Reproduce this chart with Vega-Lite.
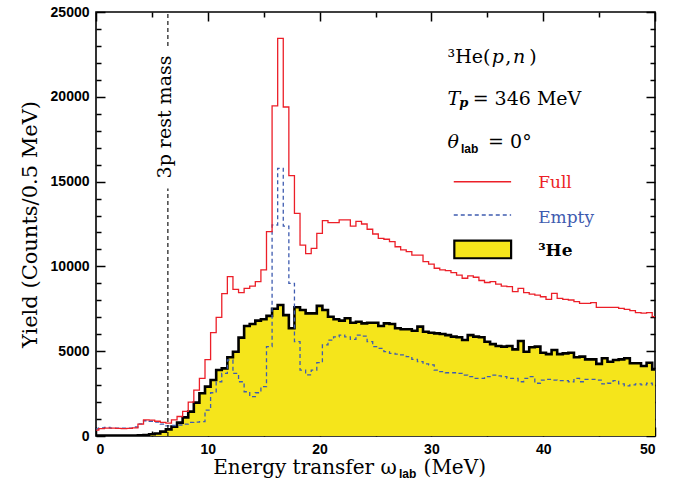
{
  "$schema": "https://vega.github.io/schema/vega-lite/v6.json",
  "width": 559,
  "height": 424,
  "autosize": {"type": "none"},
  "padding": {"left": 96, "top": 12, "right": 30, "bottom": 55},
  "background": "white",
  "config": {
    "view": {"stroke": "black", "strokeWidth": 1.6},
    "axis": {"domain": false, "grid": false, "tickColor": "black", "tickWidth": 1.5, "labelFont": "Liberation Sans", "labelFontWeight": "bold", "labelFontSize": 14, "labelColor": "black", "format": "d"}
  },
  "datasets": {
    "hist": [
      {"E":0,"full":350,"empty":420,"he3":20},{"E":0.5,"full":430,"empty":480,"he3":20},{"E":1,"full":460,"empty":500,"he3":20},{"E":1.5,"full":470,"empty":470,"he3":20},{"E":2,"full":450,"empty":470,"he3":20},{"E":2.5,"full":440,"empty":460,"he3":20},{"E":3,"full":450,"empty":470,"he3":20},{"E":3.5,"full":480,"empty":530,"he3":30},{"E":4,"full":700,"empty":720,"he3":40},{"E":4.5,"full":950,"empty":900,"he3":60},
      {"E":5,"full":940,"empty":870,"he3":100},{"E":5.5,"full":870,"empty":820,"he3":150},{"E":6,"full":800,"empty":700,"he3":260},{"E":6.5,"full":760,"empty":600,"he3":390},{"E":7,"full":950,"empty":620,"he3":550},{"E":7.5,"full":1150,"empty":650,"he3":790},{"E":8,"full":1450,"empty":700,"he3":1100},{"E":8.5,"full":2000,"empty":800,"he3":1440},{"E":9,"full":2700,"empty":820,"he3":1970},{"E":9.5,"full":3400,"empty":850,"he3":2520},
      {"E":10,"full":4500,"empty":1530,"he3":2910},{"E":10.5,"full":6100,"empty":2550,"he3":3300},{"E":11,"full":7000,"empty":3200,"he3":3890},{"E":11.5,"full":8400,"empty":3690,"he3":3990},{"E":12,"full":9400,"empty":4480,"he3":4640},{"E":12.5,"full":8650,"empty":3690,"he3":4970},{"E":13,"full":8450,"empty":3200,"he3":5800},{"E":13.5,"full":8700,"empty":2610,"he3":6490},{"E":14,"full":8840,"empty":2320,"he3":6600},{"E":14.5,"full":9100,"empty":2550,"he3":6800},
      {"E":15,"full":9790,"empty":2910,"he3":6880},{"E":15.5,"full":12050,"empty":5270,"he3":7080},{"E":16,"full":19460,"empty":12440,"he3":7500},{"E":16.5,"full":23450,"empty":15780,"he3":7720},{"E":17,"full":19400,"empty":12380,"he3":7130},{"E":17.5,"full":15350,"empty":9000,"he3":6350},{"E":18,"full":13130,"empty":5560,"he3":7590},{"E":18.5,"full":11260,"empty":3890,"he3":7430},{"E":19,"full":10750,"empty":3600,"he3":7230},{"E":19.5,"full":11060,"empty":3890,"he3":7230},
      {"E":20,"full":11950,"empty":4330,"he3":7670},{"E":20.5,"full":12700,"empty":5370,"he3":7430},{"E":21,"full":12580,"empty":5650,"he3":7035},{"E":21.5,"full":12580,"empty":5850,"he3":6880},{"E":22,"full":12740,"empty":5950,"he3":6800},{"E":22.5,"full":12740,"empty":5850,"he3":6940},{"E":23,"full":12380,"empty":5700,"he3":6680},{"E":23.5,"full":12650,"empty":5950,"he3":6740},{"E":24,"full":12500,"empty":5890,"he3":6640},{"E":24.5,"full":12190,"empty":5560,"he3":6680},
      {"E":25,"full":11910,"empty":5270,"he3":6680},{"E":25.5,"full":11650,"empty":5170,"he3":6490},{"E":26,"full":11600,"empty":4970,"he3":6640},{"E":26.5,"full":11460,"empty":4870,"he3":6600},{"E":27,"full":11160,"empty":4830,"he3":6350},{"E":27.5,"full":10970,"empty":4780,"he3":6290},{"E":28,"full":10870,"empty":4680,"he3":6290},{"E":28.5,"full":10670,"empty":4520,"he3":6210},{"E":29,"full":10670,"empty":4390,"he3":6450},{"E":29.5,"full":10280,"empty":4250,"he3":6150},
      {"E":30,"full":10140,"empty":4190,"he3":6090},{"E":30.5,"full":9890,"empty":3890,"he3":6050},{"E":31,"full":9790,"empty":3790,"he3":6010},{"E":31.5,"full":9750,"empty":3730,"he3":5950},{"E":32,"full":9630,"empty":3730,"he3":5860},{"E":32.5,"full":9490,"empty":3690,"he3":5820},{"E":33,"full":9300,"empty":3590,"he3":5660},{"E":33.5,"full":9440,"empty":3500,"he3":5950},{"E":34,"full":9360,"empty":3400,"he3":5860},{"E":34.5,"full":9170,"empty":3400,"he3":5820},
      {"E":35,"full":9050,"empty":3500,"he3":5560},{"E":35.5,"full":9100,"empty":3590,"he3":5420},{"E":36,"full":8960,"empty":3540,"he3":5310},{"E":36.5,"full":8840,"empty":3500,"he3":5270},{"E":37,"full":8810,"empty":3400,"he3":5310},{"E":37.5,"full":8510,"empty":3400,"he3":5110},{"E":38,"full":8700,"empty":3200,"he3":5600},{"E":38.5,"full":8450,"empty":3400,"he3":4970},{"E":39,"full":8370,"empty":3500,"he3":5230},{"E":39.5,"full":8310,"empty":3110,"he3":5270},
      {"E":40,"full":8210,"empty":3300,"he3":4910},{"E":40.5,"full":8060,"empty":3340,"he3":4830},{"E":41,"full":8410,"empty":3300,"he3":5070},{"E":41.5,"full":8120,"empty":3260,"he3":4830},{"E":42,"full":8060,"empty":3260,"he3":4870},{"E":42.5,"full":8020,"empty":3200,"he3":4910},{"E":43,"full":7920,"empty":3400,"he3":4640},{"E":43.5,"full":7820,"empty":3200,"he3":4680},{"E":44,"full":7820,"empty":3340,"he3":4520},{"E":44.5,"full":7860,"empty":3340,"he3":4520},
      {"E":45,"full":7580,"empty":3300,"he3":4250},{"E":45.5,"full":7580,"empty":3070,"he3":4580},{"E":46,"full":7580,"empty":3110,"he3":4380},{"E":46.5,"full":7580,"empty":3260,"he3":4480},{"E":47,"full":7530,"empty":3070,"he3":4520},{"E":47.5,"full":7470,"empty":2950,"he3":4580},{"E":48,"full":7390,"empty":3010,"he3":4290},{"E":48.5,"full":7280,"empty":3070,"he3":4290},{"E":49,"full":7240,"empty":3010,"he3":4130},{"E":49.5,"full":7280,"empty":3110,"he3":4320},
      {"E":50,"full":7040,"empty":3010,"he3":3930}
    ],
    "restmass": [{"x":6.43,"y1":0,"y2":14600},{"x":6.43,"y1":23000,"y2":25000}],
    "annNorm": [{"x":31.45,"y":22010,"t":"³He("},{"x":36.6,"y":22010,"t":","},{"x":38.75,"y":22010,"t":")"},{"x":33.69,"y":19515,"t":"= 346 MeV"},{"x":35.07,"y":17000,"t":"= 0°"}],
    "annItal": [{"x":35.4,"y":22010,"t":"p"},{"x":37.3,"y":22010,"t":"n"},{"x":31.45,"y":19515,"t":"T"},{"x":31.45,"y":17000,"t":"θ"}],
    "annSub": [{"x":32.5,"y":19380,"t":"p"}],
    "annLab": [{"x":32.65,"y":16700,"t":"lab"}],
    "legLines": [{"s":"Full","x1":32.0,"x2":37.13,"y":14990},{"s":"Empty","x1":32.0,"x2":37.13,"y":13030}],
    "legRect": [{"x1":32.05,"x2":37.13,"y1":10480,"y2":11515}],
    "legText": [{"s":"Full","x":39.55,"y":14600,"t":"Full"},{"s":"Empty","x":39.55,"y":12580,"t":"Empty"}],
    "legHe": [{"x":39.55,"y":10610,"t":"³He"}],
    "xtitle": [{"x":26.9,"y":0,"t":"Energy transfer ω"}],
    "xtitleSub": [{"x":27.1,"y":0,"t":"lab"}],
    "xtitleEnd": [{"x":29.3,"y":0,"t":"(MeV)"}],
    "rmText": [{"x":6.43,"y":18810,"t":"3p rest mass"}]
  },
  "resolve": {"axis": {"x": "independent", "y": "independent"}},
  "layer": [
    {
      "data": {"name": "hist"},
      "mark": {"type": "area", "interpolate": "step", "color": "#f5e51b", "clip": true},
      "encoding": {
        "x": {"field": "E", "type": "quantitative", "scale": {"domain": [0, 50], "nice": false, "zero": false},
              "axis": {"orient": "bottom", "values": [0, 10, 20, 30, 40, 50], "tickSize": -9, "labelPadding": 15, "title": null}},
        "y": {"field": "he3", "type": "quantitative", "scale": {"domain": [0, 25000], "nice": false},
              "axis": {"orient": "left", "values": [0, 5000, 10000, 15000, 20000, 25000], "tickSize": -9, "labelPadding": 16,
                       "title": "Yield (Counts/0.5 MeV)", "titleFont": "DejaVu Serif", "titleFontWeight": "normal", "titleFontSize": 21, "titleColor": "black", "titlePadding": 10}}
      }
    },
    {
      "data": {"name": "hist"},
      "mark": {"type": "line", "interpolate": "step", "color": "black", "strokeWidth": 2.6, "clip": true},
      "encoding": {
        "x": {"field": "E", "type": "quantitative", "scale": {"domain": [0, 50], "nice": false, "zero": false},
              "axis": {"orient": "bottom", "values": [5, 15, 25, 35, 45], "tickSize": -5, "labels": false, "title": null}},
        "y": {"field": "he3", "type": "quantitative", "scale": {"domain": [0, 25000], "nice": false},
              "axis": {"orient": "left", "values": [1000,2000,3000,4000,6000,7000,8000,9000,11000,12000,13000,14000,16000,17000,18000,19000,21000,22000,23000,24000], "tickSize": -5, "labels": false, "title": null}}
      }
    },
    {
      "data": {"name": "hist"},
      "mark": {"type": "line", "interpolate": "step", "color": "#3f5cb0", "strokeWidth": 1.3, "strokeDash": [4, 3], "clip": true},
      "encoding": {
        "x": {"field": "E", "type": "quantitative", "scale": {"domain": [0, 50], "nice": false, "zero": false},
              "axis": {"orient": "top", "values": [0, 10, 20, 30, 40, 50], "tickSize": -9, "labels": false, "title": null}},
        "y": {"field": "empty", "type": "quantitative", "scale": {"domain": [0, 25000], "nice": false},
              "axis": {"orient": "right", "values": [0, 5000, 10000, 15000, 20000, 25000], "tickSize": -9, "labels": false, "title": null}}
      }
    },
    {
      "data": {"name": "hist"},
      "mark": {"type": "line", "interpolate": "step", "color": "#ec1f28", "strokeWidth": 1.3, "clip": true},
      "encoding": {
        "x": {"field": "E", "type": "quantitative", "scale": {"domain": [0, 50], "nice": false, "zero": false},
              "axis": {"orient": "top", "values": [5, 15, 25, 35, 45], "tickSize": -5, "labels": false, "title": null}},
        "y": {"field": "full", "type": "quantitative", "scale": {"domain": [0, 25000], "nice": false},
              "axis": {"orient": "right", "values": [1000,2000,3000,4000,6000,7000,8000,9000,11000,12000,13000,14000,16000,17000,18000,19000,21000,22000,23000,24000], "tickSize": -5, "labels": false, "title": null}}
      }
    },
    {
      "data": {"name": "restmass"},
      "mark": {"type": "rule", "color": "black", "strokeWidth": 1.1, "strokeDash": [4, 3]},
      "encoding": {
        "x": {"field": "x", "type": "quantitative", "axis": null},
        "y": {"field": "y1", "type": "quantitative", "axis": null},
        "y2": {"field": "y2"}
      }
    },
    {
      "data": {"name": "rmText"},
      "mark": {"type": "text", "font": "DejaVu Serif", "fontSize": 19, "angle": 270, "align": "center", "baseline": "middle", "dy": -3, "color": "black"},
      "encoding": {
        "x": {"field": "x", "type": "quantitative", "axis": null},
        "y": {"field": "y", "type": "quantitative", "axis": null},
        "text": {"field": "t"}
      }
    },
    {
      "data": {"name": "annNorm"},
      "mark": {"type": "text", "font": "DejaVu Serif", "fontSize": 19, "align": "left", "baseline": "alphabetic", "color": "black"},
      "encoding": {
        "x": {"field": "x", "type": "quantitative", "axis": null},
        "y": {"field": "y", "type": "quantitative", "axis": null},
        "text": {"field": "t"}
      }
    },
    {
      "data": {"name": "annItal"},
      "mark": {"type": "text", "font": "DejaVu Serif", "fontStyle": "italic", "fontSize": 19, "align": "left", "baseline": "alphabetic", "color": "black"},
      "encoding": {
        "x": {"field": "x", "type": "quantitative", "axis": null},
        "y": {"field": "y", "type": "quantitative", "axis": null},
        "text": {"field": "t"}
      }
    },
    {
      "data": {"name": "annSub"},
      "mark": {"type": "text", "font": "DejaVu Serif", "fontStyle": "italic", "fontWeight": "bold", "fontSize": 13, "align": "left", "baseline": "alphabetic", "color": "black"},
      "encoding": {
        "x": {"field": "x", "type": "quantitative", "axis": null},
        "y": {"field": "y", "type": "quantitative", "axis": null},
        "text": {"field": "t"}
      }
    },
    {
      "data": {"name": "annLab"},
      "mark": {"type": "text", "font": "Liberation Sans", "fontWeight": "bold", "fontSize": 12, "align": "left", "baseline": "alphabetic", "color": "black"},
      "encoding": {
        "x": {"field": "x", "type": "quantitative", "axis": null},
        "y": {"field": "y", "type": "quantitative", "axis": null},
        "text": {"field": "t"}
      }
    },
    {
      "data": {"name": "legLines"},
      "mark": {"type": "rule", "strokeWidth": 1.3},
      "encoding": {
        "x": {"field": "x1", "type": "quantitative", "axis": null},
        "x2": {"field": "x2"},
        "y": {"field": "y", "type": "quantitative", "axis": null},
        "color": {"field": "s", "type": "nominal", "scale": {"domain": ["Full", "Empty"], "range": ["#ec1f28", "#3f5cb0"]}, "legend": null},
        "strokeDash": {"field": "s", "type": "nominal", "scale": {"domain": ["Full", "Empty"], "range": [[1, 0], [4, 3]]}, "legend": null}
      }
    },
    {
      "data": {"name": "legRect"},
      "mark": {"type": "rect", "color": "#f5e51b", "stroke": "black", "strokeWidth": 2.2},
      "encoding": {
        "x": {"field": "x1", "type": "quantitative", "axis": null},
        "x2": {"field": "x2"},
        "y": {"field": "y1", "type": "quantitative", "axis": null},
        "y2": {"field": "y2"}
      }
    },
    {
      "data": {"name": "legText"},
      "mark": {"type": "text", "font": "DejaVu Serif", "fontSize": 17, "align": "left", "baseline": "alphabetic"},
      "encoding": {
        "x": {"field": "x", "type": "quantitative", "axis": null},
        "y": {"field": "y", "type": "quantitative", "axis": null},
        "text": {"field": "t"},
        "color": {"field": "s", "type": "nominal", "scale": {"domain": ["Full", "Empty"], "range": ["#ec1f28", "#3f5cb0"]}, "legend": null}
      }
    },
    {
      "data": {"name": "legHe"},
      "mark": {"type": "text", "font": "DejaVu Serif", "fontWeight": "bold", "fontSize": 17, "align": "left", "baseline": "alphabetic", "color": "black"},
      "encoding": {
        "x": {"field": "x", "type": "quantitative", "axis": null},
        "y": {"field": "y", "type": "quantitative", "axis": null},
        "text": {"field": "t"}
      }
    },
    {
      "data": {"name": "xtitle"},
      "mark": {"type": "text", "font": "DejaVu Serif", "fontSize": 20, "align": "right", "baseline": "alphabetic", "dy": 38, "color": "black"},
      "encoding": {
        "x": {"field": "x", "type": "quantitative", "axis": null},
        "y": {"field": "y", "type": "quantitative", "axis": null},
        "text": {"field": "t"}
      }
    },
    {
      "data": {"name": "xtitleSub"},
      "mark": {"type": "text", "font": "Liberation Sans", "fontWeight": "bold", "fontSize": 12, "align": "left", "baseline": "alphabetic", "dy": 42, "color": "black"},
      "encoding": {
        "x": {"field": "x", "type": "quantitative", "axis": null},
        "y": {"field": "y", "type": "quantitative", "axis": null},
        "text": {"field": "t"}
      }
    },
    {
      "data": {"name": "xtitleEnd"},
      "mark": {"type": "text", "font": "DejaVu Serif", "fontSize": 20, "align": "left", "baseline": "alphabetic", "dy": 38, "color": "black"},
      "encoding": {
        "x": {"field": "x", "type": "quantitative", "axis": null},
        "y": {"field": "y", "type": "quantitative", "axis": null},
        "text": {"field": "t"}
      }
    }
  ]
}
